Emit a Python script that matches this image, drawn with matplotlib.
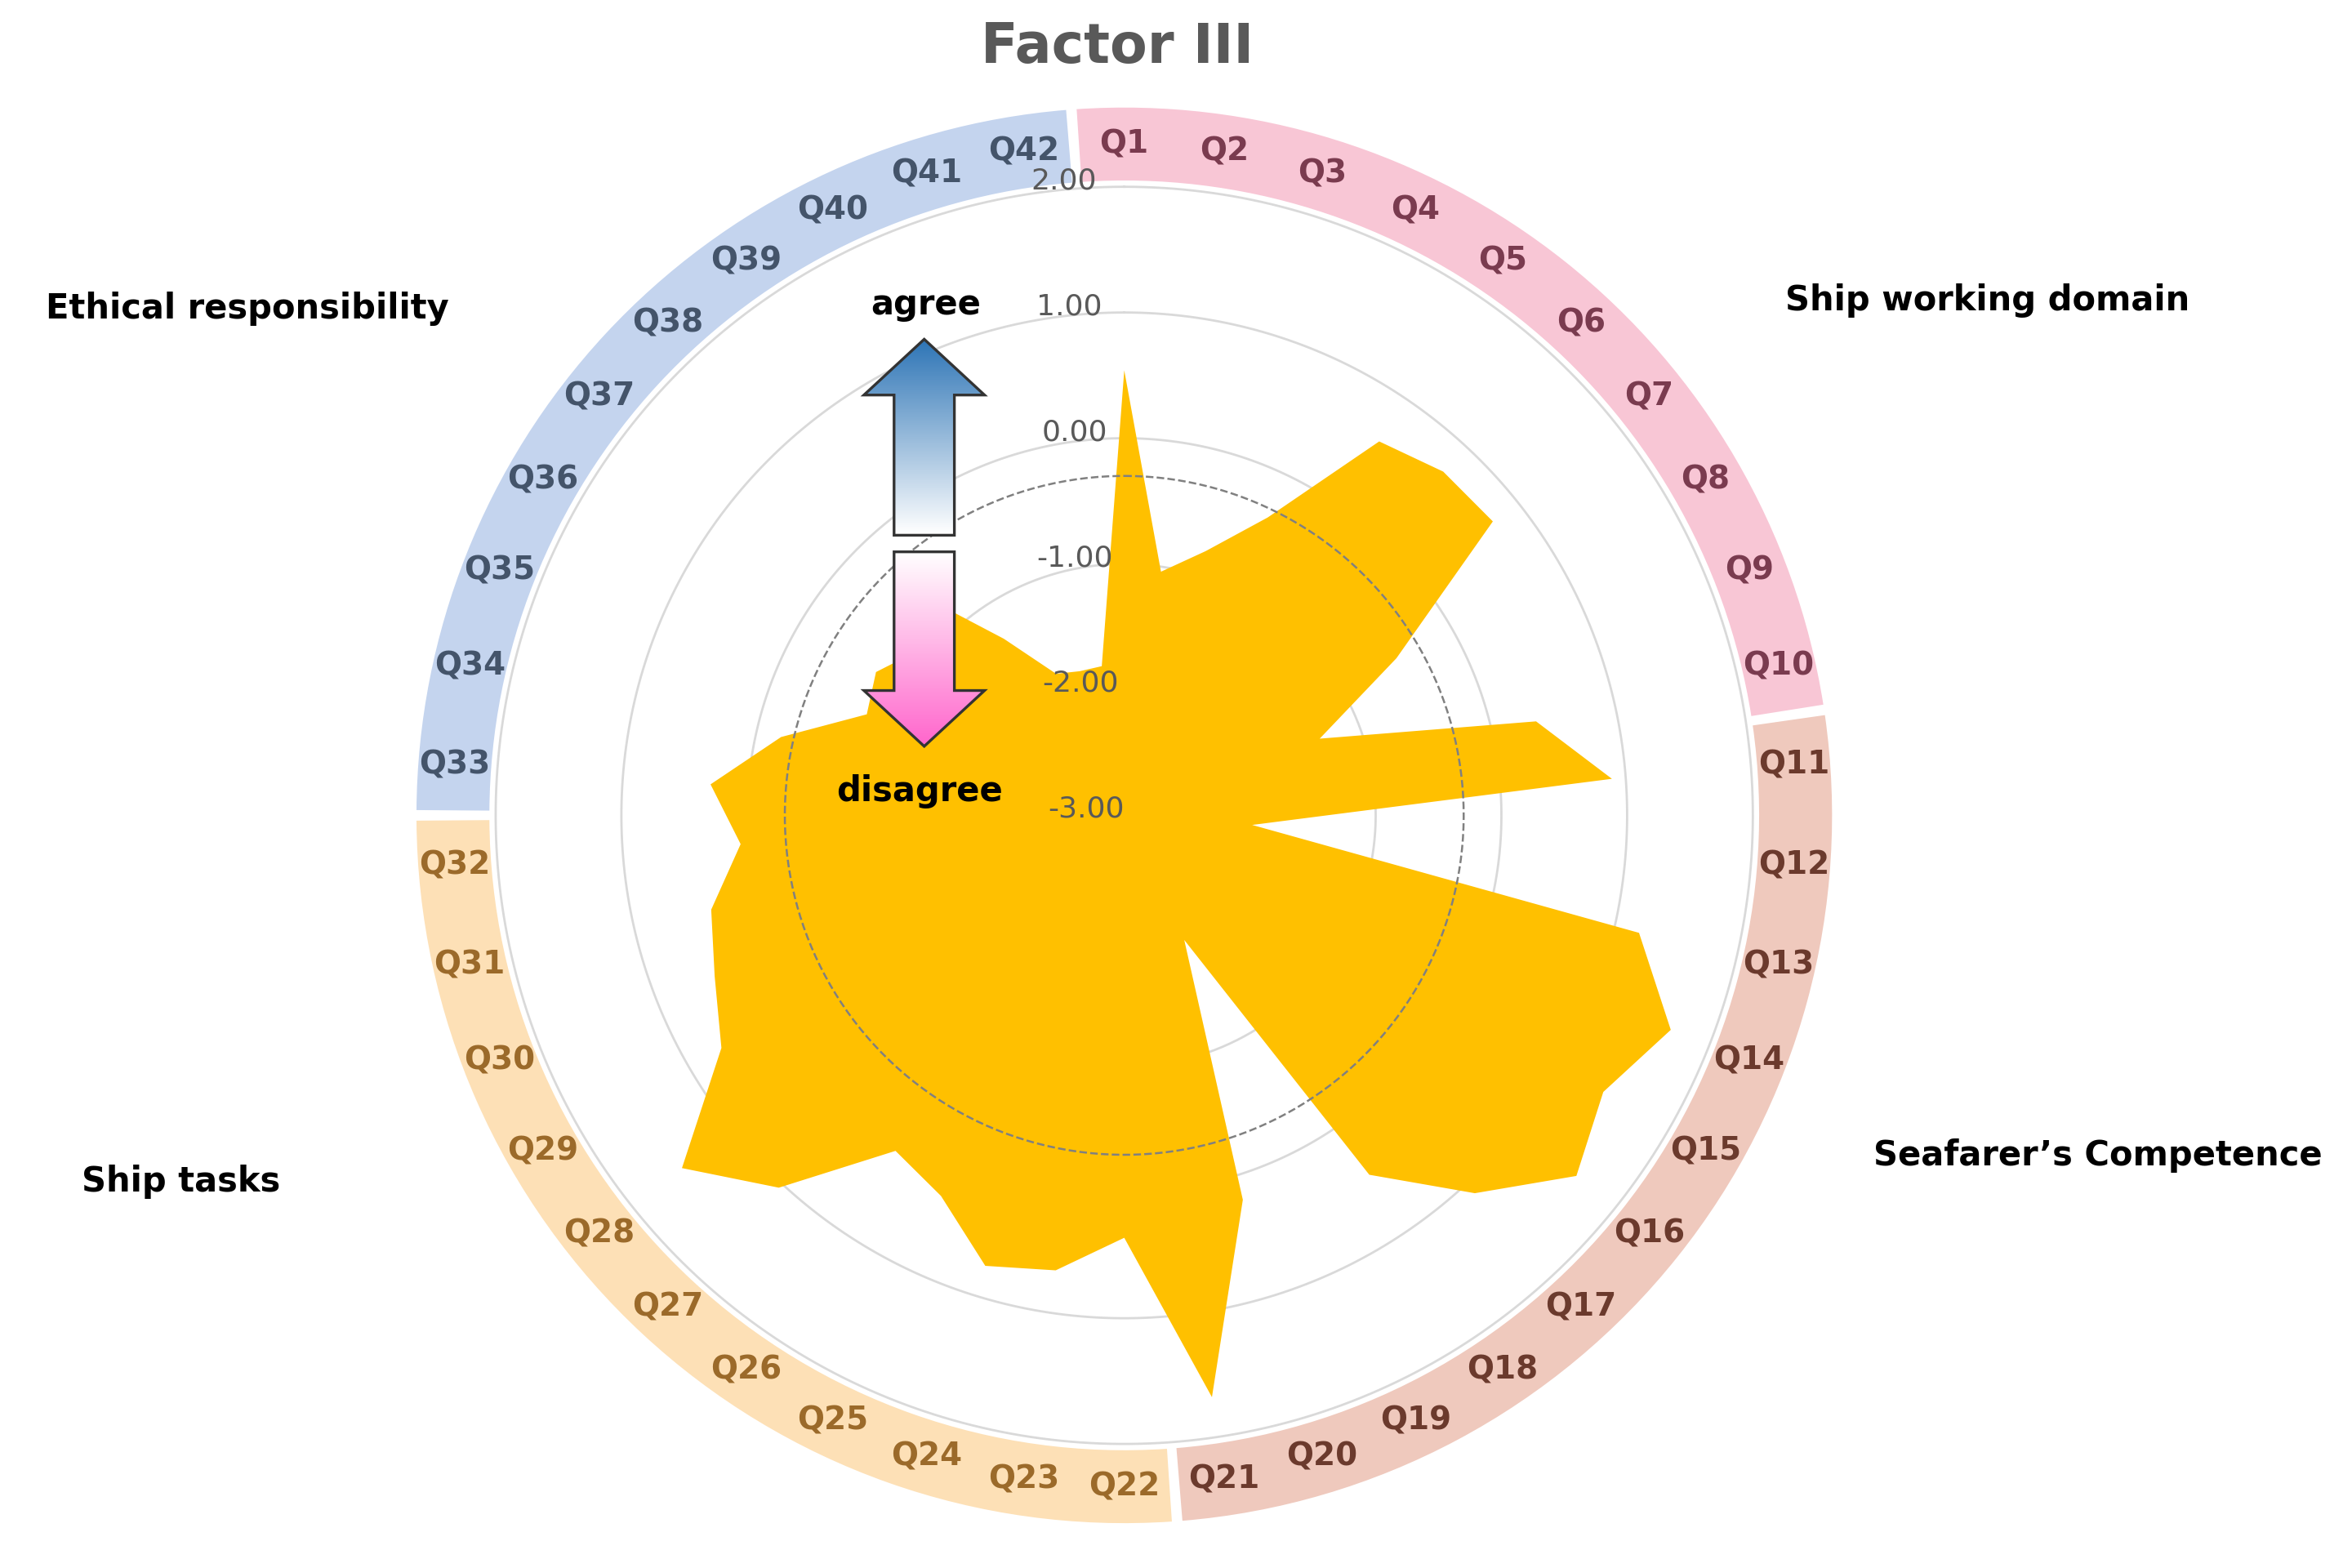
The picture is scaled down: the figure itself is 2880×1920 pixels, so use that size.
import numpy as np
import matplotlib.pyplot as plt
from matplotlib.patches import Polygon
from matplotlib.colors import LinearSegmentedColormap

questions = ['Q%d' % i for i in range(1, 43)]
scores = [0.54, -1.04, -0.8, -0.37, 0.6, 0.73, 0.75, -0.5, -1.33, 0.36,
          0.89, -1.98, 1.2, 1.67, 1.4, 1.6, 1.1, 0.46, -1.9, 0.2,
          1.68, 0.36, 0.66, 0.75, 0.36, 0.23, 1.04, 1.5, 0.7, 0.5,
          0.37, 0.06, 0.3, -0.2, -0.8, -0.72, -0.9, -0.6, -1.3, -1.75,
          -1.8, -1.8]
groups = ['Ship working domain', "Seafarer\u2019s Competence", 'Ship tasks', 'Ethical responsibility']
group_sizes = [10, 11, 11, 10]
group_colors = ['#f8c6d5', '#efc9bd', '#fde0b6', '#c4d4ee']
label_colors = ['#7a3b4f', '#6b3a2d', '#9b6a2a', '#44546a']
ring_values = [-3, -2, -1, 0, 1, 2]

fig = plt.figure(figsize=(14.4, 9.6), dpi=200)
ax = fig.add_axes([0.176, 0.027, 0.604, 0.906], projection='polar')
ax.set_theta_zero_location('N')
ax.set_theta_direction(-1)
ax.set_rlim(-3, 2.65)
ax.axis('off')

n = len(questions)
theta = np.arange(n) * 2 * np.pi / n
t = np.append(theta, theta[0])
s = np.append(scores, scores[0])

circ = np.linspace(0, 2 * np.pi, 400)
for rv in ring_values[1:]:
    ax.plot(circ, np.full_like(circ, rv), color='#d9d9d9', lw=1.0, zorder=1)
ax.fill(t, s, color='#ffc000', zorder=2, lw=0)
ax.plot(circ, np.full_like(circ, -0.3), color='#808080', lw=0.9, ls='--', zorder=3)
for rv in ring_values:
    ax.text(np.radians(-2.5), rv + 0.05, '%.2f' % rv, ha='right', va='center',
            fontsize=13, color='#595959', zorder=4)

# outer bands
step = 2 * np.pi / n
start = 0
for g, size in enumerate(group_sizes):
    a0 = theta[start] - step * 0.45
    a1 = theta[start + size - 1] + step * 0.45
    ax.bar((a0 + a1) / 2, 0.58, width=a1 - a0, bottom=2.05, color=group_colors[g], lw=0)
    for i in range(start, start + size):
        ax.text(theta[i], 2.34, questions[i], ha='center', va='center',
                fontsize=14, fontweight='bold', color=label_colors[g])
    start += size

fig.text(0.475, 0.97, 'Factor III', ha='center', va='center', fontsize=24,
         fontweight='bold', color='#595959')
fig.text(0.845, 0.802, groups[0], fontsize=15, fontweight='bold', ha='center')
fig.text(0.892, 0.257, groups[1], fontsize=15, fontweight='bold', ha='center')
fig.text(0.077, 0.24, groups[2], fontsize=15, fontweight='bold', ha='center')
fig.text(0.105, 0.797, groups[3], fontsize=15, fontweight='bold', ha='center')

# agree / disagree arrows in pixel-like overlay
ov = fig.add_axes([0, 0, 1, 1])
ov.set_xlim(0, 1560)
ov.set_ylim(1040, 0)
ov.axis('off')

def grad_arrow(pts, c_top, c_bot, y0, y1):
    poly = Polygon(pts, closed=True, fc='none', ec='#333333', lw=1.2, zorder=6)
    ov.add_patch(poly)
    cmap = LinearSegmentedColormap.from_list('g', [c_top, c_bot])
    im = ov.imshow(np.linspace(0, 1, 100).reshape(-1, 1), cmap=cmap, aspect='auto',
                   extent=(560, 665, y1, y0), zorder=5)
    im.set_clip_path(poly)

up = [(593, 355), (633, 355), (633, 262), (653, 262), (613, 225), (573, 262), (593, 262)]
down = [(593, 366), (633, 366), (633, 458), (653, 458), (613, 495), (573, 458), (593, 458)]
grad_arrow(up, '#2e75b6', '#ffffff', 225, 355)
grad_arrow(down, '#ffffff', '#ff66cc', 366, 495)
ov.text(614, 202, 'agree', ha='center', va='center', fontsize=15, fontweight='bold')
ov.text(610, 525, 'disagree', ha='center', va='center', fontsize=15, fontweight='bold')

fig.savefig('out.png', dpi=200)
